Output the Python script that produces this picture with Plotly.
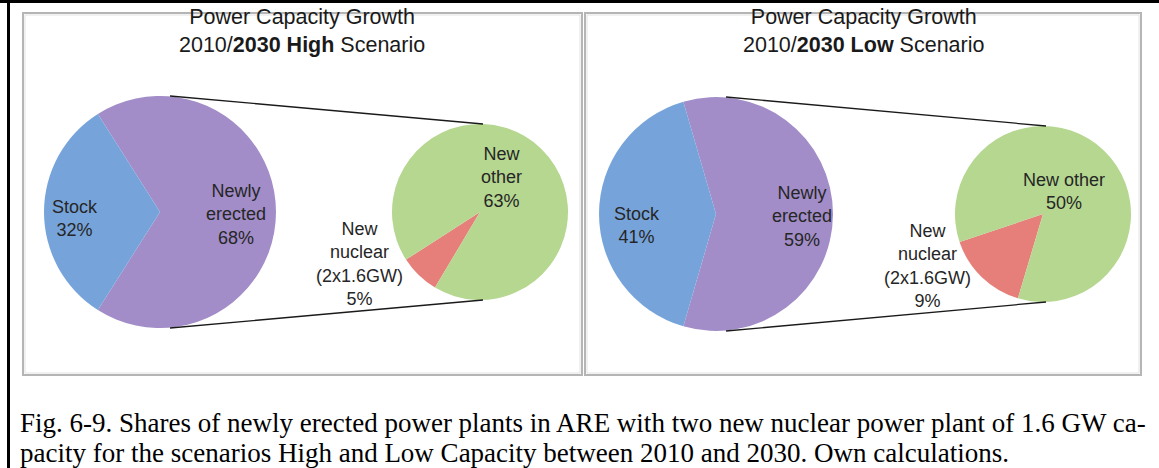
import plotly.graph_objects as go

W, H = 1159, 468

# ---- data -------------------------------------------------------------
scenarios = ["High", "Low"]
main_labels = ["Newly erected", "Stock"]
main_high = [68, 32]
main_low = [59, 41]
sub_labels = ["New nuclear (2x1.6GW)", "New other"]
sub_high = [5, 63]
sub_low = [9, 50]

caption_lines = [
    "Fig. 6-9. Shares of newly erected power plants in ARE with two new nuclear power plant of 1.6 GW ca-",
    "pacity for the scenarios High and Low Capacity between 2010 and 2030. Own calculations.",
]

# ---- styling ----------------------------------------------------------
main_colors = ["#a28dc8", "#76a4da"]
sub_colors = ["#e67f7a", "#b5d790"]
label_font = dict(family="Liberation Sans, Arial, sans-serif", size=18, color="#262626")
title_font = dict(family="Liberation Sans, Arial, sans-serif", size=21.5, color="#1a1a1a")

# panel layout in pixels
panels = [
    dict(x0=23, x1=582, main_c=(160, 212), main_r=116, sub_c=(480, 212), sub_r=88, title_x=302),
    dict(x0=585, x1=1141, main_c=(716, 214), main_r=117, sub_c=(1043, 214), sub_r=88, title_x=863),
]
panel_top, panel_bottom = 13, 375


def px(x):
    return x / W


def py(y):
    return 1 - y / H


def domain(c, r):
    cx, cy = c
    return dict(x=[px(cx - r), px(cx + r)], y=[py(cy + r), py(cy - r)])


fig = go.Figure()
shapes = []
annotations = []

for i, (scen, mv, sv) in enumerate(zip(scenarios, [main_high, main_low], [sub_high, sub_low])):
    p = panels[i]
    stock_share = mv[1] / sum(mv)
    nuc_share = sv[0] / sum(sv)

    # main pie: stock wedge centred on the left side
    fig.add_trace(go.Pie(
        labels=main_labels, values=mv, sort=False, direction="clockwise",
        rotation=270 + stock_share * 180,
        marker=dict(colors=main_colors, line=dict(width=0)),
        textinfo="none", hoverinfo="label+percent", showlegend=False,
        domain=domain(p["main_c"], p["main_r"]),
    ))
    # secondary pie: breakdown of newly erected capacity
    fig.add_trace(go.Pie(
        labels=sub_labels, values=sv, sort=False, direction="clockwise",
        rotation=224 - nuc_share * 180,
        marker=dict(colors=sub_colors, line=dict(width=0)),
        textinfo="none", hoverinfo="label+percent", showlegend=False,
        domain=domain(p["sub_c"], p["sub_r"]),
    ))

    # panel frame
    shapes.append(dict(type="rect", xref="paper", yref="paper",
                       x0=px(p["x0"]), x1=px(p["x1"]), y0=py(panel_bottom), y1=py(panel_top),
                       line=dict(color="#b5b5b5", width=2)))
    shapes.append(dict(type="rect", xref="paper", yref="paper",
                       x0=px(p["x0"] + 2), x1=px(p["x1"] - 2), y0=py(panel_bottom - 2), y1=py(panel_top + 2),
                       line=dict(color="#e2e2e2", width=1)))

    # connector lines between the two pies
    (mcx, mcy), mr = p["main_c"], p["main_r"]
    (scx, scy), sr = p["sub_c"], p["sub_r"]
    for sgn in (-1, 1):
        shapes.append(dict(type="line", xref="paper", yref="paper",
                           x0=px(mcx + 10), y0=py(mcy + sgn * mr),
                           x1=px(scx + 3), y1=py(scy + sgn * sr),
                           line=dict(color="#1a1a1a", width=1.3)))

    # two-line panel title
    annotations.append(dict(x=px(p["title_x"]), y=py(31),
                            text=f"Power Capacity Growth<br>2010/<b>2030 {scen}</b> Scenario",
                            font=title_font))

ann_pos = [
    dict(stock=(75, 218), newly=(236, 215), other=(501, 177), nuc=(359, 264), other_text="New<br>other"),
    dict(stock=(637, 225), newly=(802, 216), other=(1064, 191), nuc=(927, 266), other_text="New other"),
]
for i, (mv, sv) in enumerate(zip([main_high, main_low], [sub_high, sub_low])):
    a = ann_pos[i]
    annotations.append(dict(x=px(a["stock"][0]), y=py(a["stock"][1]),
                            text=f"Stock<br>{mv[1]}%", font=label_font))
    annotations.append(dict(x=px(a["newly"][0]), y=py(a["newly"][1]),
                            text=f"Newly<br>erected<br>{mv[0]}%", font=label_font))
    annotations.append(dict(x=px(a["other"][0]), y=py(a["other"][1]),
                            text=f"{a['other_text']}<br>{sv[1]}%", font=label_font))
    annotations.append(dict(x=px(a["nuc"][0]), y=py(a["nuc"][1]),
                            text=f"New<br>nuclear<br>(2x1.6GW)<br>{sv[0]}%", font=label_font))

for a in annotations:
    a.update(xref="paper", yref="paper", showarrow=False, xanchor="center", yanchor="middle")

# caption below the figure panels
for line, y in zip(caption_lines, [423, 453]):
    annotations.append(dict(x=px(18), y=py(y), xref="paper", yref="paper", showarrow=False,
                            xanchor="left", yanchor="middle", text=line,
                            font=dict(family="Liberation Serif, Times New Roman, serif", size=27,
                                      color="#000000")))

# outer document frame: top rule and left rule
shapes.append(dict(type="line", xref="paper", yref="paper", x0=0, x1=1, y0=py(1.5), y1=py(1.5),
                   line=dict(color="#000000", width=3)))
shapes.append(dict(type="line", xref="paper", yref="paper", x0=px(8.5), x1=px(8.5), y0=0, y1=py(0),
                   line=dict(color="#000000", width=3)))

fig.update_layout(
    width=W, height=H,
    margin=dict(l=0, r=0, t=0, b=0),
    paper_bgcolor="white", plot_bgcolor="white",
    shapes=shapes, annotations=annotations,
    showlegend=False,
)

fig.write_html("out.html", config={"displayModeBar": False})
